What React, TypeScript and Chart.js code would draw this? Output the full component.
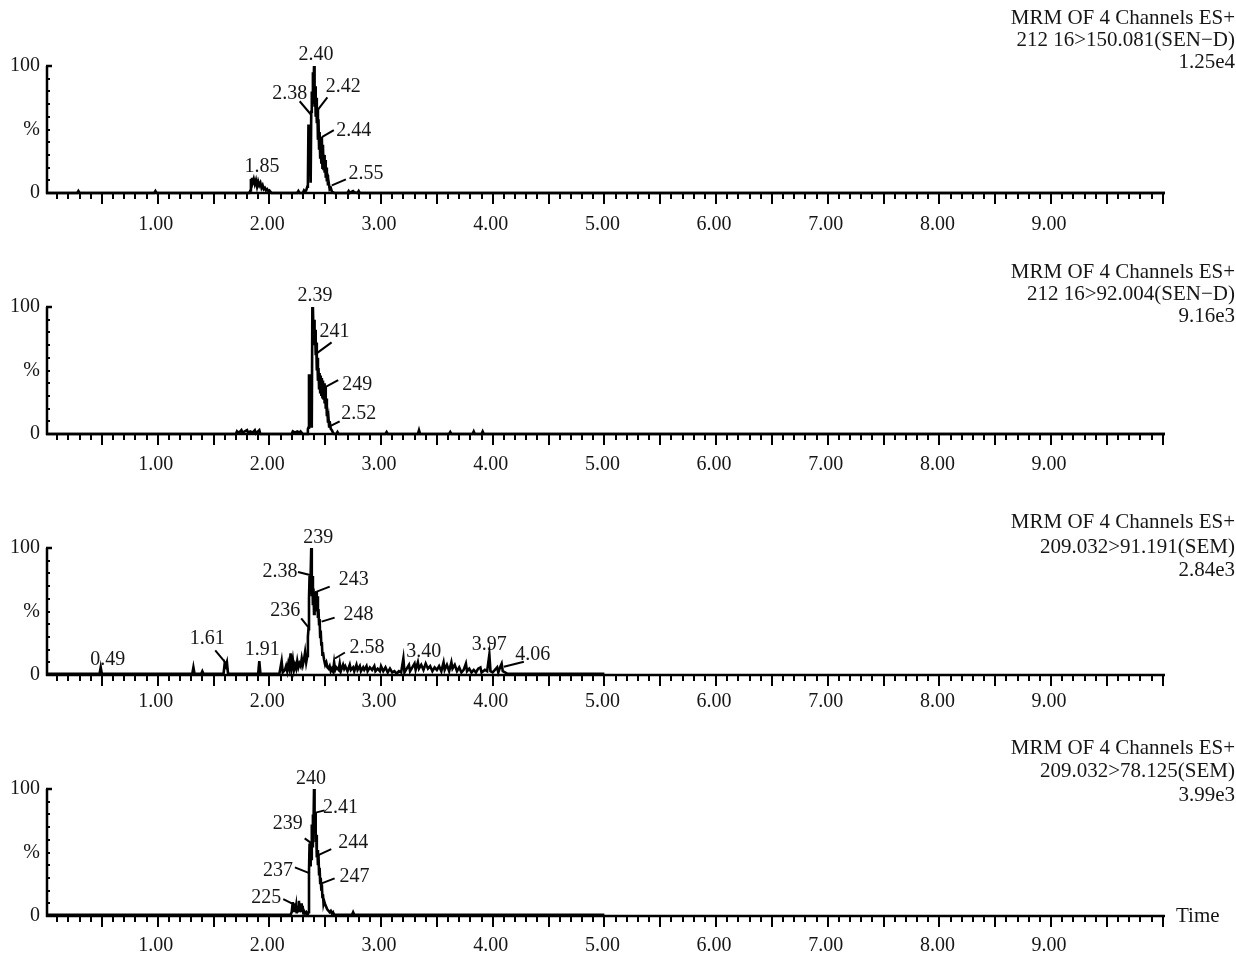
import React, { useEffect, useRef } from "react";
import { Chart, registerables } from "chart.js";

Chart.register(...registerables);

const FONT = '"Liberation Serif", "Times New Roman", serif';
const INK = "#161616";

// ---------- axes ----------
const X_MIN = 0;
const X_MAX = 10.02;
const xTickValues = [1, 2, 3, 4, 5, 6, 7, 8, 9];
const xTickLabels = ["1.00", "2.00", "3.00", "4.00", "5.00", "6.00", "7.00", "8.00", "9.00"];
const xMinorStep = 0.1;
const yTickValues = [0, 50, 100];
const yTickLabels = ["0", "%", "100"];
const yMinorStep = 10;

// ---------- titles ----------
const title1 = ["MRM OF 4 Channels ES+", "212 16>150.081(SEN\u2212D)", "1.25e4"];
const title2 = ["MRM OF 4 Channels ES+", "212 16>92.004(SEN\u2212D)", "9.16e3"];
const title3 = ["MRM OF 4 Channels ES+", "209.032>91.191(SEM)", "2.84e3"];
const title4 = ["MRM OF 4 Channels ES+", "209.032>78.125(SEM)", "3.99e3"];
const xAxisName = "Time";

// ---------- traces: [time (min), relative intensity (%)] ----------
const trace1: number[][] = [
  [0, 0], [0.28, 0], [0.29, 1.5], [0.3, 0], [0.97, 0], [0.98, 1.5], [0.99, 0],
  [1.82, 0], [1.83, 2], [1.835, 11], [1.84, 6], [1.845, 12], [1.85, 8], [1.86, 11], [1.87, 7],
  [1.88, 10], [1.89, 5], [1.9, 9], [1.91, 6], [1.92, 8], [1.93, 4], [1.94, 6], [1.95, 3],
  [1.96, 4], [1.97, 2], [1.98, 3], [1.99, 1.5], [2.0, 2], [2.02, 0],
  [2.25, 0], [2.26, 1.5], [2.27, 0], [2.3, 0], [2.31, 2], [2.32, 1], [2.33, 2], [2.34, 5],
  [2.345, 6], [2.35, 53], [2.365, 53], [2.37, 8], [2.375, 64], [2.38, 80], [2.385, 72],
  [2.39, 95], [2.395, 70], [2.4, 100], [2.405, 68], [2.41, 84], [2.415, 60], [2.42, 75],
  [2.425, 55], [2.43, 67], [2.435, 42], [2.44, 58], [2.445, 35], [2.45, 48], [2.455, 28],
  [2.46, 42], [2.465, 24], [2.47, 44], [2.475, 20], [2.48, 38], [2.485, 18], [2.49, 30],
  [2.495, 16], [2.5, 26], [2.505, 12], [2.51, 20], [2.515, 9], [2.52, 14], [2.525, 6],
  [2.53, 9], [2.54, 3], [2.55, 4], [2.56, 1], [2.58, 0],
  [2.7, 0], [2.71, 1.5], [2.72, 0], [2.74, 1], [2.75, 1.5], [2.76, 0.5], [2.79, 0],
  [2.8, 1.5], [2.81, 0], [10.02, 0],
];

const trace2: number[][] = [
  [0, 0], [1.7, 0], [1.71, 2], [1.72, 1], [1.74, 2], [1.75, 3], [1.76, 1], [1.78, 2],
  [1.8, 3], [1.81, 1], [1.83, 2], [1.85, 1], [1.87, 3], [1.88, 0.5], [1.91, 3], [1.92, 0],
  [2.2, 0], [2.21, 2], [2.23, 1], [2.25, 2], [2.27, 1], [2.28, 2], [2.3, 0], [2.34, 0],
  [2.345, 4], [2.35, 5], [2.355, 46], [2.37, 46], [2.375, 6], [2.38, 8], [2.385, 99],
  [2.39, 100], [2.395, 80], [2.4, 90], [2.405, 70], [2.41, 82], [2.415, 62], [2.42, 72],
  [2.425, 50], [2.43, 60], [2.435, 42], [2.44, 52], [2.445, 36], [2.45, 48], [2.455, 33],
  [2.46, 46], [2.465, 31], [2.47, 44], [2.475, 29], [2.48, 42], [2.485, 27], [2.49, 40],
  [2.495, 24], [2.5, 37], [2.505, 20], [2.51, 28], [2.515, 14], [2.52, 18], [2.525, 9],
  [2.53, 12], [2.535, 6], [2.54, 10], [2.55, 4], [2.56, 3], [2.57, 1], [2.58, 0],
  [2.6, 0], [2.61, 1.5], [2.62, 0], [3.04, 0], [3.05, 1.5], [3.06, 0], [3.33, 0], [3.34, 3],
  [3.35, 0], [3.61, 0], [3.62, 1.5], [3.63, 0], [3.82, 0], [3.83, 2], [3.84, 0], [3.9, 0],
  [3.91, 2], [3.92, 0], [10.02, 0],
];

const trace3: number[][] = [
  [0, 1], [0.48, 1], [0.49, 6], [0.5, 1], [1.31, 1], [1.32, 6], [1.33, 1], [1.39, 1],
  [1.4, 3], [1.41, 1], [1.59, 1], [1.6, 9], [1.61, 7], [1.62, 10], [1.63, 1], [1.9, 1],
  [1.91, 11], [1.92, 1],
  [2.09, 1], [2.1, 6], [2.11, 11], [2.12, 2], [2.14, 4], [2.15, 7], [2.16, 3], [2.17, 9],
  [2.18, 5], [2.19, 17], [2.2, 6], [2.21, 12], [2.22, 4], [2.23, 8], [2.24, 5], [2.25, 11],
  [2.26, 6], [2.27, 9], [2.28, 7], [2.29, 13], [2.3, 8], [2.31, 12], [2.32, 18], [2.33, 10],
  [2.34, 15], [2.345, 30], [2.35, 36], [2.355, 60], [2.36, 78], [2.365, 70], [2.37, 80],
  [2.375, 100], [2.38, 62], [2.385, 78], [2.39, 55], [2.395, 68], [2.4, 48], [2.405, 64],
  [2.41, 52], [2.415, 60], [2.42, 66], [2.425, 50], [2.43, 62], [2.435, 45], [2.44, 52],
  [2.445, 40], [2.45, 44], [2.455, 30], [2.46, 35], [2.465, 24], [2.47, 26], [2.475, 16],
  [2.48, 18], [2.49, 12], [2.5, 8], [2.51, 10],
  [2.52, 6], [2.53, 5], [2.54, 7], [2.55, 3], [2.56, 5], [2.57, 3], [2.58, 10], [2.59, 4],
  [2.6, 6], [2.62, 4], [2.63, 9], [2.64, 3], [2.66, 8], [2.67, 5], [2.68, 7], [2.7, 3],
  [2.72, 8], [2.73, 4], [2.75, 6], [2.76, 3], [2.78, 8], [2.79, 4], [2.81, 7], [2.82, 3],
  [2.84, 6], [2.85, 4], [2.87, 7], [2.88, 3], [2.9, 6], [2.92, 4], [2.94, 7], [2.95, 3],
  [2.97, 5], [2.99, 3], [3.0, 7], [3.02, 3], [3.04, 6], [3.06, 2], [3.08, 5], [3.1, 2],
  [3.12, 3], [3.14, 1], [3.16, 3], [3.18, 2], [3.2, 13], [3.21, 2], [3.23, 5], [3.25, 8],
  [3.26, 3], [3.28, 6], [3.3, 9], [3.31, 4], [3.33, 10], [3.34, 5], [3.36, 8], [3.38, 4],
  [3.4, 9], [3.42, 5], [3.44, 7], [3.46, 3], [3.48, 6], [3.5, 4], [3.52, 7], [3.54, 3],
  [3.56, 10], [3.57, 4], [3.59, 8], [3.61, 3], [3.63, 10], [3.64, 5], [3.66, 8], [3.68, 3],
  [3.7, 6], [3.72, 2], [3.74, 4], [3.76, 9], [3.77, 3], [3.79, 5], [3.81, 2], [3.83, 4],
  [3.85, 2], [3.87, 5], [3.89, 6], [3.9, 2], [3.93, 4], [3.95, 3], [3.97, 16], [3.98, 3],
  [4.0, 2], [4.02, 4], [4.04, 6], [4.05, 2], [4.07, 7], [4.08, 9], [4.09, 3], [4.11, 2],
  [4.13, 1], [5.0, 1],
];

const trace4: number[][] = [
  [0, 1], [2.19, 1], [2.2, 3], [2.21, 11], [2.215, 4], [2.22, 9], [2.225, 3], [2.23, 10],
  [2.235, 5], [2.24, 8], [2.245, 2], [2.25, 7], [2.255, 3], [2.26, 6], [2.265, 12],
  [2.27, 4], [2.275, 9], [2.28, 3], [2.285, 10], [2.29, 5], [2.3, 6], [2.305, 2], [2.31, 4],
  [2.32, 2], [2.33, 3], [2.34, 1], [2.345, 2], [2.35, 3], [2.355, 35], [2.36, 57],
  [2.365, 40], [2.37, 58], [2.375, 45], [2.38, 72], [2.385, 55], [2.39, 80], [2.395, 70],
  [2.4, 100], [2.405, 75], [2.41, 82], [2.415, 58], [2.42, 64], [2.425, 46], [2.43, 52],
  [2.435, 40], [2.44, 48], [2.445, 33], [2.45, 38], [2.455, 26], [2.46, 30], [2.465, 21],
  [2.47, 25], [2.475, 15], [2.48, 17], [2.485, 10], [2.49, 12], [2.5, 9], [2.51, 7],
  [2.52, 5], [2.53, 4], [2.54, 3], [2.55, 4], [2.56, 2], [2.57, 3], [2.58, 1], [2.74, 1],
  [2.75, 3], [2.76, 1], [5.0, 1],
];

// ---------- peak annotations ----------
const peaks1Text = ["2.40", "2.38", "2.42", "2.44", "2.55", "1.85"];
const peaks1Time = [2.4, 2.37, 2.43, 2.47, 2.56, 1.845];
const peaks1Pct = [100, 62, 65, 44, 6, 12];

const peaks2Text = ["2.39", "241", "249", "2.52"];
const peaks2Time = [2.39, 2.423, 2.5, 2.54];
const peaks2Pct = [100, 63.5, 37, 6];

const peaks3Text = ["0.49", "1.61", "1.91", "239", "2.38", "243", "236", "248", "2.58", "3.40", "3.97", "4.06"];
const peaks3Time = [0.49, 1.605, 1.91, 2.375, 2.364, 2.424, 2.357, 2.468, 2.587, 3.4, 3.97, 4.1];
const peaks3Pct = [6, 10, 11, 100, 78.7, 65.6, 36.8, 42, 13, 9, 16, 6.5];

const peaks4Text = ["240", "2.41", "239", "244", "237", "247", "225"];
const peaks4Time = [2.4, 2.423, 2.379, 2.438, 2.363, 2.468, 2.214];
const peaks4Pct = [100, 81.6, 57.2, 48, 33.6, 25.7, 9.4];

// label placement (pixels): [text dx, text dy, leader start dx, leader start dy]
const peaks1Layout = [[2, -11, 0, 0], [-21, -21, -11, -13], [26, -24, 10, -13], [32, -6, 12, -7], [34, -12, 14, -6], [10, -11, 0, 0]];
const peaks2Layout = [[2, -11, 0, 0], [18, -22, 15, -11], [32, -2, 13, -7], [29, -13, 10, -5]];
const peaks3Layout = [[7, -8, 0, 0], [-18, -24, -10, -12], [3, -11, 0, 0], [7, -10, 0, 0], [-30, -3, -12, -3], [37, -12, 13, -5], [-24, -18, -8, -10], [37, -7, 13, -4], [32, -11, 10, -6], [-2, -12, 0, 0], [0, -10, 0, 0], [29, -12, 20, -5]];
const peaks4Layout = [[-3, -10, 0, 0], [24, -5, 8, -2], [-24, -20, -7, -5], [35, -12, 13, -6], [-32, -3, -15, -6], [33, -7, 13, -5], [-27, -6, -10, -5]];

type PanelCfg = {
  trace: number[][];
  titles: string[];
  peakText: string[];
  peakTime: number[];
  peakPct: number[];
  layout: number[][];
  titleY: number[];
  tickPad: number;
  showTime: boolean;
};

const panels: PanelCfg[] = [
  { trace: trace1, titles: title1, peakText: peaks1Text, peakTime: peaks1Time, peakPct: peaks1Pct, layout: peaks1Layout, titleY: [18, 40, 62], tickPad: 20, showTime: false },
  { trace: trace2, titles: title2, peakText: peaks2Text, peakTime: peaks2Time, peakPct: peaks2Pct, layout: peaks2Layout, titleY: [31, 53, 75], tickPad: 19, showTime: false },
  { trace: trace3, titles: title3, peakText: peaks3Text, peakTime: peaks3Time, peakPct: peaks3Pct, layout: peaks3Layout, titleY: [40, 65, 88], tickPad: 15, showTime: false },
  { trace: trace4, titles: title4, peakText: peaks4Text, peakTime: peaks4Time, peakPct: peaks4Pct, layout: peaks4Layout, titleY: [25, 48, 72], tickPad: 18, showTime: true },
];

const PANEL_H = 241;
const W = 1236;

function makeDecor(cfg: PanelCfg) {
  return {
    id: "decor",
    afterDraw(chart: any) {
      const ctx = chart.ctx as CanvasRenderingContext2D;
      const xs = chart.scales.x;
      const ys = chart.scales.y;
      const { left, right, top, bottom } = chart.chartArea;
      ctx.save();
      ctx.strokeStyle = "#000";
      ctx.fillStyle = INK;
      ctx.lineCap = "butt";

      // axis lines
      ctx.lineWidth = 2.5;
      ctx.beginPath();
      ctx.moveTo(left, bottom);
      ctx.lineTo(right, bottom);
      ctx.moveTo(left + 1, top);
      ctx.lineTo(left + 1, bottom + 1);
      ctx.moveTo(left, top);
      ctx.lineTo(left + 6, top);
      ctx.stroke();

      // x minor/major ticks
      ctx.lineWidth = 2;
      ctx.beginPath();
      const n = Math.floor((X_MAX - X_MIN) / xMinorStep + 1e-6);
      for (let i = 1; i <= n; i++) {
        const v = X_MIN + i * xMinorStep;
        if (v >= X_MAX - 1e-6) break;
        const px = Math.round(xs.getPixelForValue(v));
        const len = i % 5 === 0 ? 11 : 6;
        ctx.moveTo(px, bottom);
        ctx.lineTo(px, bottom + len);
      }
      // y minor ticks
      for (let v = yMinorStep; v < 100; v += yMinorStep) {
        const py = Math.round(ys.getPixelForValue(v));
        ctx.moveTo(left, py);
        ctx.lineTo(left + 4, py);
      }
      ctx.stroke();

      // titles
      ctx.font = `21px ${FONT}`;
      ctx.textAlign = "right";
      ctx.textBaseline = "middle";
      cfg.titles.forEach((t, i) => ctx.fillText(t, W - 1, cfg.titleY[i]));

      // peak labels
      ctx.font = `20px ${FONT}`;
      ctx.textAlign = "center";
      ctx.lineWidth = 2;
      cfg.peakText.forEach((txt, k) => {
        const ax = xs.getPixelForValue(cfg.peakTime[k]);
        const ay = ys.getPixelForValue(cfg.peakPct[k]);
        const [dx, dy, lx, ly] = cfg.layout[k];
        if (lx !== 0 || ly !== 0) {
          ctx.beginPath();
          ctx.moveTo(ax + lx, ay + ly);
          ctx.lineTo(ax, ay);
          ctx.stroke();
        }
        ctx.fillText(txt, ax + dx, ay + dy);
      });

      if (cfg.showTime) {
        ctx.font = `21px ${FONT}`;
        ctx.textAlign = "left";
        ctx.fillText(xAxisName, right + 11, bottom);
      }
      ctx.restore();
    },
  };
}

function Panel({ cfg, top }: { cfg: PanelCfg; top: number }) {
  const ref = useRef<HTMLCanvasElement>(null);
  useEffect(() => {
    const canvas = ref.current!;
    const chart = new Chart(canvas, {
      type: "line",
      data: {
        datasets: [
          {
            data: cfg.trace.map(([x, y]) => ({ x, y })),
            borderColor: "#000",
            borderWidth: 2.6,
            pointRadius: 0,
            tension: 0,
            fill: false,
            clip: 3,
          } as any,
        ],
      },
      options: {
        animation: false,
        responsive: false,
        maintainAspectRatio: false,
        devicePixelRatio: 1,
        events: [],
        layout: { padding: { top: 66, right: 71, left: 0, bottom: 0 } },
        plugins: { legend: { display: false }, tooltip: { enabled: false }, title: { display: false } },
        scales: {
          x: {
            type: "linear",
            min: X_MIN,
            max: X_MAX,
            grid: { display: false, drawTicks: false },
            border: { display: false },
            afterBuildTicks: (s: any) => {
              s.ticks = xTickValues.map((v) => ({ value: v }));
            },
            afterFit: (s: any) => {
              s.height = 48;
            },
            ticks: {
              autoSkip: false,
              maxRotation: 0,
              padding: cfg.tickPad,
              labelOffset: -2,
              color: INK,
              font: { family: FONT, size: 20 },
              callback: (_v: any, i: number) => xTickLabels[i] ?? "",
            },
          },
          y: {
            type: "linear",
            min: 0,
            max: 100,
            grid: { display: false, drawTicks: false },
            border: { display: false },
            afterBuildTicks: (s: any) => {
              s.ticks = yTickValues.map((v) => ({ value: v }));
            },
            afterFit: (s: any) => {
              s.width = 46;
            },
            ticks: {
              autoSkip: false,
              padding: 6,
              color: INK,
              font: { family: FONT, size: 20 },
              callback: (_v: any, i: number) => yTickLabels[i] ?? "",
            },
          },
        },
      } as any,
      plugins: [makeDecor(cfg)],
    });
    return () => chart.destroy();
  }, [cfg]);
  return (
    <canvas
      ref={ref}
      width={W}
      height={PANEL_H}
      style={{ position: "absolute", left: 0, top, width: W, height: PANEL_H, display: "block" }}
    />
  );
}

export default function App() {
  return (
    <div style={{ position: "absolute", left: 0, top: 0, width: W, height: 954, overflow: "hidden", background: "#fff" }}>
      {panels.map((cfg, i) => (
        <Panel key={i} cfg={cfg} top={i * PANEL_H} />
      ))}
    </div>
  );
}
